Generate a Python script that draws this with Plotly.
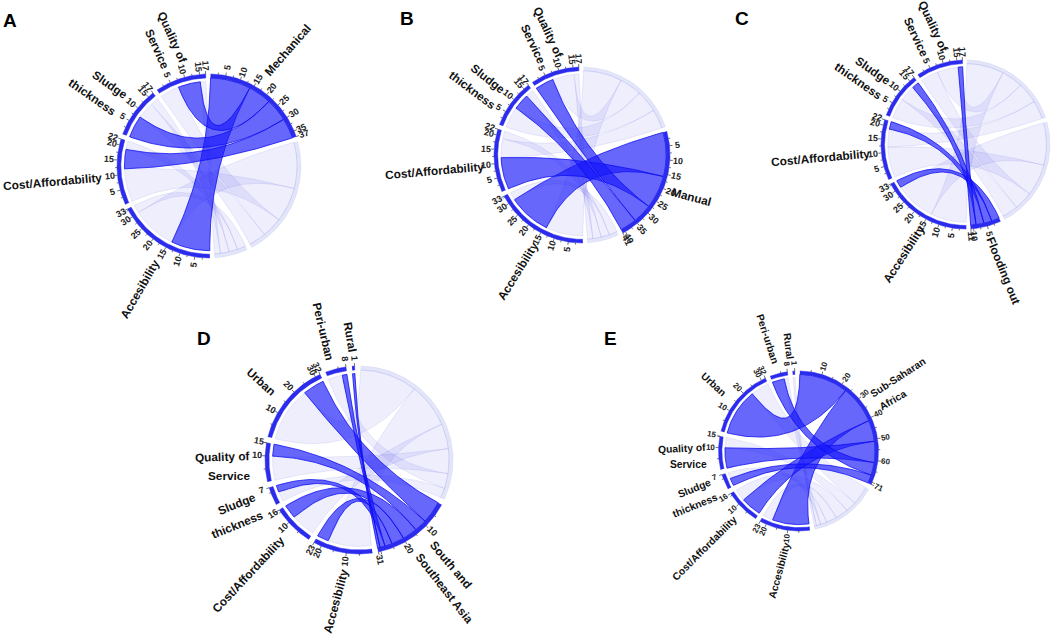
import numpy as np
import plotly.graph_objects as go

# ---------- data ----------
treat_sectors = ["Mechanical", "Manual", "Flooding out", "Accesibility", "Cost/Affordability", "Sludge thickness", "Quality of Service"]
treat_totals = [37, 41, 11, 33, 22, 17, 17]
treat_links_by_source = {
    "Mechanical": [("Accesibility", 14), ("Quality of Service", 8), ("Sludge thickness", 8), ("Cost/Affordability", 7)],
    "Manual": [("Accesibility", 16), ("Cost/Affordability", 12), ("Quality of Service", 7), ("Sludge thickness", 6)],
    "Flooding out": [("Accesibility", 3), ("Cost/Affordability", 3), ("Sludge thickness", 3), ("Quality of Service", 2)],
}
treat_target_order = {
    "Accesibility": ["Mechanical", "Manual", "Flooding out"],
    "Cost/Affordability": ["Manual", "Mechanical", "Flooding out"],
    "Sludge thickness": ["Mechanical", "Manual", "Flooding out"],
    "Quality of Service": ["Manual", "Mechanical", "Flooding out"],
}
region_sectors = ["Sub-Saharan Africa", "South and Southeast Asia", "Accesibility", "Cost/Affordability", "Sludge thickness", "Quality of Service", "Urban", "Peri-urban", "Rural"]
region_totals = [71, 31, 23, 16, 7, 15, 32, 8, 1]
region_links_by_source = {
    "Sub-Saharan Africa": [("Urban", 23), ("Accesibility", 18), ("Cost/Affordability", 10), ("Quality of Service", 10), ("Peri-urban", 6), ("Sludge thickness", 4)],
    "South and Southeast Asia": [("Urban", 9), ("Quality of Service", 5), ("Cost/Affordability", 6), ("Accesibility", 5), ("Sludge thickness", 3), ("Peri-urban", 2), ("Rural", 1)],
}
region_target_order = {t: ["Sub-Saharan Africa", "South and Southeast Asia"] for t in region_sectors[2:]}

# panel: letter, centre x, centre y, radius, highlighted source, family, tick step
panels = [
    ("A", 209, 166, 92, "Mechanical", "treat", 5),
    ("B", 582, 155, 88, "Manual", "treat", 5),
    ("C", 965.5, 144.5, 84.5, "Flooding out", "treat", 5),
    ("D", 359, 460, 94, "South and Southeast Asia", "region", 10),
    ("E", 798.5, 451, 80, "Sub-Saharan Africa", "region", 10),
]
# text, x, y, angle
labels = {
    "A": [("Mechanical", 288, 50, -49), ("Quality of", 172, 37, 66), ("Service", 157, 49, 66), ("Sludge", 110, 85, 35), ("thickness", 92, 97, 35), ("Cost/Affordability", 52, 182, -5), ("Accesibility", 140, 289, -60)],
    "B": [("Quality of", 548, 32, 65), ("Service", 533, 44, 65), ("Sludge", 488, 79, 38), ("thickness", 472, 90, 37), ("Cost/Affordability", 434, 171, -5), ("Manual", 691, 197, 15), ("Accesibility", 518, 271, -58)],
    "C": [("Quality of", 933, 26, 65), ("Service", 916, 37, 65), ("Sludge", 873, 71, 35), ("thickness", 858, 81, 35), ("Cost/Affordability", 820, 158, -5), ("Flooding out", 1003, 270, 68), ("Accesibility", 904, 254, -57)],
    "D": [("Peri-urban", 323, 331, 77), ("Rural", 350, 337, 80), ("Urban", 261, 382, 42), ("Quality of", 222, 457, -2), ("Service", 229, 476, 0), ("Sludge", 237, 504, -22), ("thickness", 237, 525, -22), ("Cost/Affordability", 248, 575, -47), ("Accesibility", 336, 601, -75), ("South and", 451, 565, 50), ("Southeast Asia", 444, 588, 52)],
    "E": [("Peri-urban", 768, 339, 72), ("Rural", 789, 346, 83), ("Urban", 714, 384, 42), ("Quality of", 682, 448, -3), ("Service", 688, 464, 0), ("Sludge", 694, 488, -22), ("thickness", 695, 505, -22), ("Cost/Affordability", 704, 548, -45), ("Accesibility", 779, 570, -75), ("Sub-Saharan", 898, 377, -33), ("Africa", 892, 400, -30)],
}
letter_pos = {"A": (10, 20), "B": (407, 18), "C": (742, 18), "D": (204, 338), "E": (610, 338)}
label_size = {"A": 11.8, "B": 11.8, "C": 11.8, "D": 11.8, "E": 10.3}
tick_size = {"A": 9, "B": 9, "C": 9, "D": 9, "E": 8}

# ---------- styles ----------
FONT = "Liberation Sans"
RING = "#2b2bee"
PALE_RING = "rgba(70,80,210,0.15)"
PALE_FILL = "rgba(70,70,235,0.09)"
PALE_LINE = "rgba(70,70,220,0.10)"
HI_FILL = "rgba(25,25,250,0.66)"
HI_LINE = "rgba(10,10,240,0.75)"
GAPS = {"treat": 3.1, "region": 3.7}
R_TRACK = 0.958
R_SRC = 0.958
R_TGT = 0.92

fig = go.Figure()
annotations = []


def pt(cx, cy, r, a):
    t = np.radians(a)
    return cx + r * np.sin(t), cy - r * np.cos(t)


def arc(cx, cy, r, a0, a1, n=24):
    a = np.linspace(a0, a1, n)
    return pt(cx, cy, r, a)


def bez(p0, p1, c, n=50):
    t = np.linspace(0, 1, n)
    x = (1 - t) ** 2 * p0[0] + 2 * t * (1 - t) * c[0] + t ** 2 * p1[0]
    y = (1 - t) ** 2 * p0[1] + 2 * t * (1 - t) * c[1] + t ** 2 * p1[1]
    return x, y


def poly(xs, ys, fill, line, width):
    fig.add_trace(go.Scatter(x=xs, y=ys, mode="lines", fill="toself", fillcolor=fill,
                             line=dict(color=line, width=width), hoverinfo="skip", showlegend=False))


def draw_panel(letter, cx, cy, R, hi, family, step):
    if family == "treat":
        names, totals, by_src, tgt_order = treat_sectors, treat_totals, treat_links_by_source, treat_target_order
    else:
        names, totals, by_src, tgt_order = region_sectors, region_totals, region_links_by_source, region_target_order
    gap = GAPS[family]
    u = (360 - gap * len(names)) / sum(totals)
    start = {}
    a = 1.0
    for n, v in zip(names, totals):
        start[n] = a
        a += v * u + gap

    # target side offsets
    vals = {(s, t): v for s, lst in by_src.items() for t, v in lst}
    tgt_span = {}
    for t, order in tgt_order.items():
        off = 0
        for s in order:
            v = vals.get((s, t), 0)
            tgt_span[(s, t)] = (start[t] + off * u, start[t] + (off + v) * u)
            off += v

    def ribbon(s, t, a0, a1, fill, line, width):
        b0, b1 = tgt_span[(s, t)]
        c = (cx, cy)
        ax, ay = arc(cx, cy, R * R_SRC, a0, a1)
        e1x, e1y = bez(pt(cx, cy, R * R_SRC, a1), pt(cx, cy, R * R_TGT, b0), c)
        bx, by = arc(cx, cy, R * R_TGT, b0, b1)
        e2x, e2y = bez(pt(cx, cy, R * R_TGT, b1), pt(cx, cy, R * R_SRC, a0), c)
        poly(np.concatenate([ax, e1x, bx, e2x]), np.concatenate([ay, e1y, by, e2y]), fill, line, width)

    for phase in (0, 1):
        for s, lst in by_src.items():
            if (s == hi) != bool(phase):
                continue
            off = 0
            for t, v in lst:
                a0, a1 = start[s] + off * u, start[s] + (off + v) * u
                off += v
                if phase:
                    ribbon(s, t, a0, a1, HI_FILL, HI_LINE, 1)
                else:
                    ribbon(s, t, a0, a1, PALE_FILL, PALE_LINE, 1)

    # rings, ticks, tick labels
    tx, ty = [], []
    for n, v in zip(names, totals):
        a0 = start[n]
        a1 = a0 + v * u
        shown = (n == hi) or (n not in by_src)
        ox, oy = arc(cx, cy, R, a0, a1, 60)
        ix, iy = arc(cx, cy, R * R_TRACK, a1, a0, 60)
        colour = RING if shown else PALE_RING
        fig.add_trace(go.Scatter(x=np.concatenate([ox, ix]), y=np.concatenate([oy, iy]), mode="lines", fill="toself",
                                 fillcolor=colour, line=dict(color=colour, width=0.5), hoverinfo="skip", showlegend=False))
        if not shown:
            continue
        k = 0.5
        while k * step <= v:
            val = k * step
            ang = a0 + val * u
            major = float(k).is_integer()
            p0 = pt(cx, cy, R, ang)
            p1 = pt(cx, cy, R + (3 if major else 1.8), ang)
            tx += [p0[0], p1[0], None]
            ty += [p0[1], p1[1], None]
            k += 0.5
        marks = list(range(step, v + 1, step))
        if step == 10 and marks and v - marks[-1] == 1:
            marks = marks[:-1]
        if v not in marks:
            marks.append(v)
        p0 = pt(cx, cy, R, a1)
        p1 = pt(cx, cy, R + 3, a1)
        tx += [p0[0], p1[0], None]
        ty += [p0[1], p1[1], None]
        for m in marks:
            ang = a0 + m * u
            lx, ly = pt(cx, cy, R + 8, ang)
            rot = ang - 90 if ang < 180 else ang - 270
            annotations.append(dict(x=lx, y=ly, text=f"<b>{m}</b>", showarrow=False, textangle=rot,
                                    xanchor="center", yanchor="middle", borderpad=0,
                                    font=dict(family=FONT, size=tick_size[letter], color="#222222")))
    fig.add_trace(go.Scatter(x=tx, y=ty, mode="lines", line=dict(color="#333333", width=0.7),
                             hoverinfo="skip", showlegend=False))

    for text, x, y, ang in labels[letter]:
        annotations.append(dict(x=x, y=y, text=f"<b>{text}</b>", showarrow=False, textangle=ang,
                                xanchor="center", yanchor="middle", borderpad=0,
                                font=dict(family=FONT, size=label_size[letter], color="#111111")))
    lx, ly = letter_pos[letter]
    annotations.append(dict(x=lx, y=ly, text=f"<b>{letter}</b>", showarrow=False, xanchor="center", yanchor="middle",
                            font=dict(family=FONT, size=19, color="#000000")))


for p in panels:
    draw_panel(*p)

fig.update_layout(
    width=1059, height=636, margin=dict(l=0, r=0, t=0, b=0),
    paper_bgcolor="white", plot_bgcolor="white", showlegend=False,
    xaxis=dict(range=[0, 1059], visible=False, fixedrange=True),
    yaxis=dict(range=[636, 0], visible=False, fixedrange=True),
    annotations=annotations,
)
fig.write_html("out.html", config={"displayModeBar": False},
               post_script="document.body.style.margin='0';document.documentElement.style.overflow='hidden';")
